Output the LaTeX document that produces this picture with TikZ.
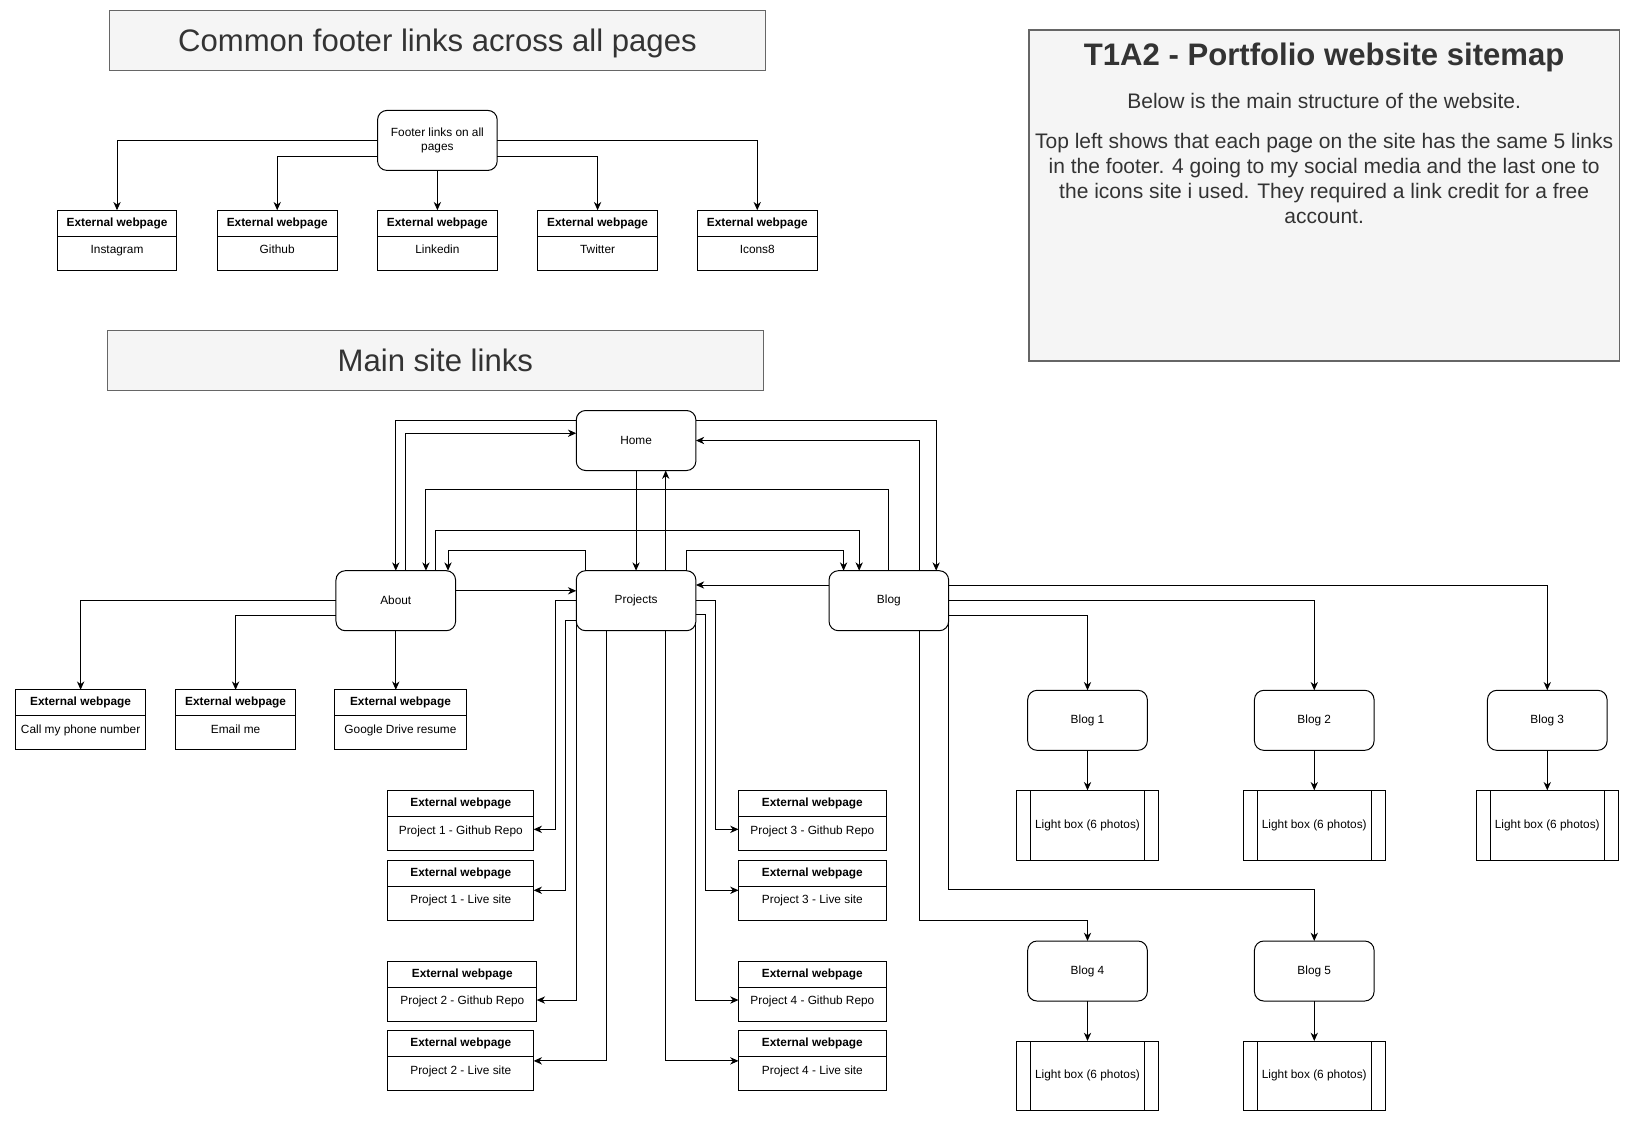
\documentclass[tikz,border=0pt]{standalone}
\usepackage{fontspec}
\setmainfont{Liberation Sans}
\usetikzlibrary{arrows.meta,calc}
\definecolor{bannerfill}{HTML}{F5F5F5}
\definecolor{bannerline}{HTML}{666666}
\definecolor{bannertext}{HTML}{333333}

\tikzset{
  page/.style={draw, rounded corners=9pt, minimum width=115pt, minimum height=57.7pt,
    inner sep=0pt, outer sep=0pt, align=center, font=\fontsize{11.4}{13.7}\selectfont},
  extbox/.style={draw, minimum height=57.7pt, inner sep=0pt, outer sep=0pt},
  exthead/.style={draw, minimum height=25pt, inner sep=0pt, outer sep=0pt,
    text height=8.2pt, text depth=2.4pt, font=\fontsize{11.4}{13.7}\selectfont\bfseries},
  extbody/.style={inner sep=0pt, text height=8.2pt, text depth=2.4pt,
    font=\fontsize{11.4}{13.7}\selectfont},
  lightbox/.style={draw, minimum width=137pt, minimum height=67pt, inner sep=0pt,
    outer sep=0pt, font=\fontsize{11.4}{13.7}\selectfont},
  banner/.style={draw=bannerline, fill=bannerfill, text=bannertext, minimum width=631pt,
    minimum height=57.7pt, inner sep=0pt, outer sep=0pt, text depth=0pt,
    font=\fontsize{29.9}{35}\selectfont},
  link/.style={-{Stealth[length=8pt,width=7pt,inset=2.5pt]}},
}

% external webpage box: name, centre, width, link text
\newcommand{\extpage}[4]{%
  \node[extbox, minimum width=#3] (#1) at (#2) {};
  \node[exthead, minimum width=#3, anchor=north] (#1-h) at (#1.north) {External webpage};
  \node[extbody] (#1-t) at ([yshift=-14pt]#1-h.south) {#4};
}

\begin{document}
\begin{tikzpicture}[x=1pt,y=-1pt,line width=0.96pt]
\useasboundingbox (0,0) rectangle (1568,1078);

% headings
\node[banner] (ttl-footer) at (420.5,39) {Common footer links across all pages};
\node[banner] (ttl-main) at (418.5,346.5) {Main site links};
\node[draw=bannerline, fill=bannerfill, line width=1.6pt, minimum width=568pt,
  minimum height=318pt, inner sep=0pt] (info) at (1273,188) {};
\node[text=bannertext, text depth=0pt, font=\fontsize{29.9}{35}\selectfont\bfseries] (info-t)
  at (1273,52) {T1A2 - Portfolio website sitemap};
\node[text=bannertext, font=\fontsize{20.2}{24}\selectfont] (info-a) at (1273,97)
  {Below is the main structure of the website.};
\node[text=bannertext, font=\fontsize{20.2}{24}\selectfont, align=center] (info-b) at (1273,172)
  {Top left shows that each page on the site has the same 5 links\\
   in the footer. 4 going to my social media and the last one to\\
   the icons site i used. They required a link credit for a free\\
   account.};

% footer links
\node[page] (footer) at (420.5,135) {Footer links on all\\pages};
\foreach \n/\x/\t in {ig/112.5/Instagram, gh/266.5/Github, li/420.5/Linkedin,
  tw/574.5/Twitter, ic/728/Icons8}{
  \extpage{\n}{\x,231}{115pt}{\t}
}
\draw[link] (footer.west) -| (ig.north);
\draw[link] (footer.west |- 0,150) -| (gh.north);
\draw[link] (footer.south) -- (li.north);
\draw[link] (footer.east |- 0,150) -| (tw.north);
\draw[link] (footer.east) -| (ic.north);

% main pages
\node[page] (home) at (611.5,423.5) {Home};
\node[page] (about) at (380.5,577.5) {About};
\node[page] (projects) at (611.5,577.5) {Projects};
\node[page] (blog) at (854.5,577.5) {Blog};

\draw[link] (home.west |- 0,404.5) -| (about.north);
\draw[link] (about.north -| 390,0) |- (home.west |- 0,416.5);
\draw[link] (home.south) -- (projects.north);
\draw[link] (projects.north -| 640,0) -- (home.south -| 640,0);
\draw[link] (home.east |- 0,404.5) -| (blog.north -| 900,0);
\draw[link] (blog.north -| 883.5,0) |- (home.east);
\draw[link] (blog.north) -- ++(0,-77.6) -| (about.north -| 409.5,0);
\draw[link] (about.north -| 419,0) -- ++(0,-38.6) -| (blog.north -| 826,0);
\draw[link] (projects.north -| 563,0) -- ++(0,-19.3) -| (about.north -| 430.7,0);
\draw[link] (projects.north -| 660.4,0) -- ++(0,-19.3) -| (blog.north -| 811,0);
\draw[link] (about.east |- 0,568) -- (projects.west |- 0,568);
\draw[link] (blog.west |- 0,562.4) -- (projects.east |- 0,562.4);

% about links
\extpage{call}{77.5,692}{125pt}{Call my phone number}
\extpage{email}{226.5,692}{115pt}{Email me}
\extpage{gdrive}{385,692}{126pt}{Google Drive resume}
\draw[link] (about.west) -| (call.north);
\draw[link] (about.west |- 0,592) -| (email.north);
\draw[link] (about.south) -- (about.south |- gdrive.north);

% project links
\extpage{p1g}{443,788.9}{140pt}{Project 1 - Github Repo}
\extpage{p1l}{443,855.9}{140pt}{Project 1 - Live site}
\extpage{p2g}{444.5,952.9}{143pt}{Project 2 - Github Repo}
\extpage{p2l}{443,1019.9}{140pt}{Project 2 - Live site}
\extpage{p3g}{781,788.9}{142pt}{Project 3 - Github Repo}
\extpage{p3l}{781,855.9}{142pt}{Project 3 - Live site}
\extpage{p4g}{781,952.9}{142pt}{Project 4 - Github Repo}
\extpage{p4l}{781,1019.9}{142pt}{Project 4 - Live site}
\draw[link] (projects.west) -- ++(-19.5,0) |- (p1g.east |- 0,797.3);
\draw[link] (projects.west |- 0,596.7) -- ++(-10,0) |- (p1l.east);
\draw[link] (projects.west |- 0,598) |- (p2g.east |- 0,961.4);
\draw[link] (projects.south -| 582.8,0) |- (p2l.east);
\draw[link] (projects.south -| 640,0) |- (p4l.west);
\draw[link] (projects.east |- 0,598) |- (p4g.west |- 0,961.4);
\draw[link] (projects.east |- 0,591.2) -- ++(9.4,0) |- (p3l.west);
\draw[link] (projects.east) -- ++(19,0) |- (p3g.west |- 0,797.3);

% blog posts
\foreach \i/\x/\y in {1/1045.5/692.5, 2/1263.5/692.5, 3/1487.5/692.5,
  4/1045.5/933.5, 5/1263.5/933.5}{
  \node[page] (blog\i) at (\x,\y) {Blog \i};
  \node[lightbox] (lb\i) at (\x,\y+100.8) {Light box (6 photos)};
  \draw ([xshift=13.5pt]lb\i.north west) -- ([xshift=13.5pt]lb\i.south west)
        ([xshift=-13.5pt]lb\i.north east) -- ([xshift=-13.5pt]lb\i.south east);
  \draw[link] (blog\i) -- (lb\i);
}
\draw[link] (blog.east |- 0,562.4) -| (blog3.north);
\draw[link] (blog.east) -| (blog2.north);
\draw[link] (blog.east |- 0,592) -| (blog1.north);
\draw[link] (blog.south -| 883.5,0) |- (blog4.north |- 0,884.5) -- (blog4.north);
\draw[link] (blog.east |- 0,598) |- (blog5.north |- 0,855.6) -- (blog5.north);
\end{tikzpicture}
\end{document}
